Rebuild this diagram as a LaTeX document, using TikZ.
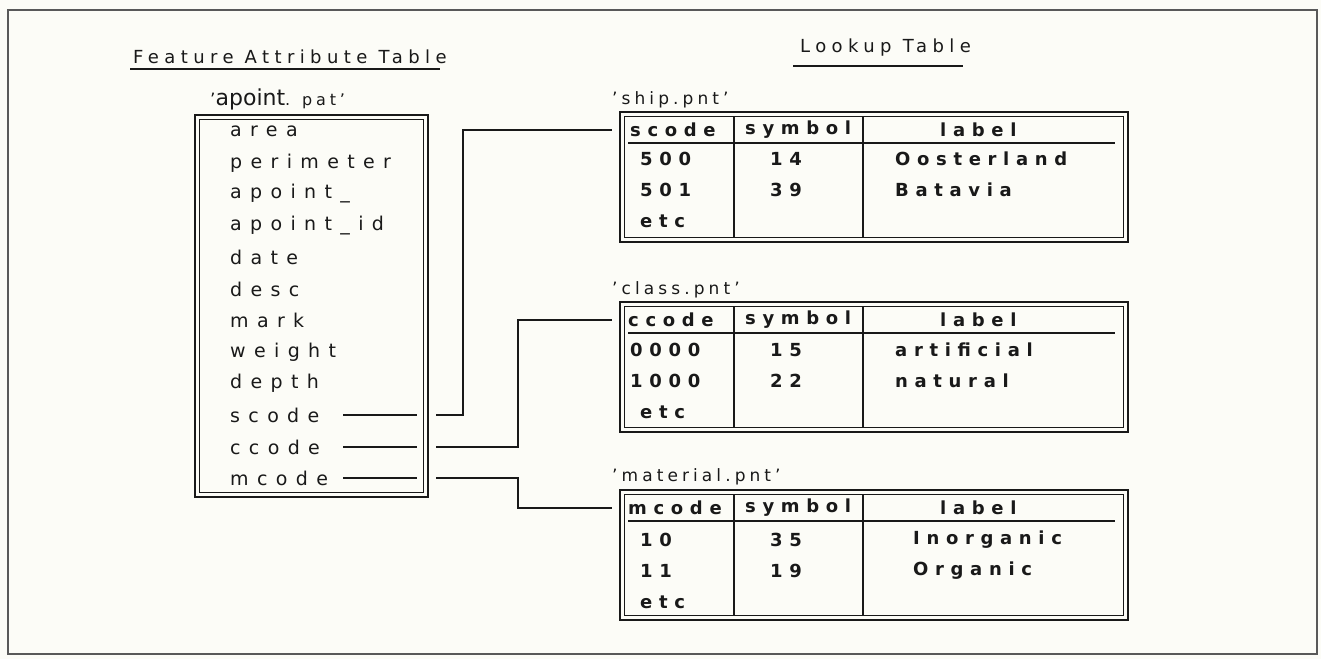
\documentclass[tikz,border=0pt]{standalone}
\usepackage{fontspec}
\setmainfont{DejaVu Sans}
\newfontfamily\plotfont[LetterSpace=44]{DejaVu Sans}
\newfontfamily\cellfont[LetterSpace=37]{DejaVu Sans}
\newfontfamily\titlefont[LetterSpace=30]{DejaVu Sans}
\newfontfamily\labfont[LetterSpace=24]{DejaVu Sans}
\newfontfamily\plainfont{DejaVu Sans}
\definecolor{paper}{RGB}{252,252,247}
\definecolor{ink}{RGB}{25,25,25}
\tikzset{
  row/.style={anchor=west,inner sep=0pt,font=\plotfont\fontsize{19}{19}\selectfont,text=ink},
  cell/.style={anchor=west,inner sep=0pt,font=\cellfont\bfseries\fontsize{18}{18}\selectfont,text=ink},
  tlabel/.style={anchor=west,inner sep=0pt,font=\labfont\fontsize{17}{17}\selectfont,text=ink},
  ttitle/.style={anchor=west,inner sep=0pt,font=\titlefont\fontsize{18}{18}\selectfont,text=ink},
  outerbox/.style={draw=ink,line width=2.4pt},
  innerbox/.style={draw=ink,line width=1.1pt},
  divider/.style={draw=ink,line width=1.4pt},
  conn/.style={draw=ink,line width=2pt},
  uline/.style={draw=ink,line width=2pt},
}
\newcommand{\luttable}[4]{% name, top, bottom, header y
  \node[outerbox,minimum width=508pt,minimum height={#3-#2},inner sep=0pt] (#1) at (874,{(#2+#3)/2}) {};
  \draw[innerbox] (624.5,#2+4.5) rectangle (1123.5,#3-4.5);
  \draw[divider] (734,#2+4.5) -- (734,#3-4.5);
  \draw[divider] (863,#2+4.5) -- (863,#3-4.5);
  \draw[uline] (628,#4+13) -- (1115,#4+13);
}
\begin{document}
\begin{tikzpicture}[x=1pt,y=-1pt]
\useasboundingbox (0,0) rectangle (1321,659);
\fill[paper] (0,0) rectangle (1321,659);
\draw[gray!70!black,line width=1.2pt] (8,10) rectangle (1317,654);

% titles
\node[ttitle] (fattitle) at (133,57) {Feature Attribute Table};
\draw[uline] (130,69) -- (440,69);
\node[ttitle] (luttitle) at (800,48) {Lookup Table};
\draw[uline] (793,66) -- (963,66);

% feature attribute table
\node[anchor=west,inner sep=0pt,text=ink] (fatname) at (210,99)
  {\labfont\fontsize{17}{17}\selectfont ’\plainfont\fontsize{22}{22}\selectfont apoint\labfont\fontsize{16}{16}\selectfont . pat’};
\node[outerbox,minimum width=233pt,minimum height=382pt,inner sep=0pt] (fat) at (311.5,306) {};
\draw[innerbox] (199.5,119.5) rectangle (423.5,492.5);

\foreach \t/\y [count=\i from 0] in {area/131,perimeter/163,apoint\_/194,apoint\_id/226,date/257,desc/289,mark/320,weight/352,depth/383,scode/415,ccode/447,mcode/478}{
  \node[row] (r\i) at (230,\y) {\t};
}
% stubs inside the box
\foreach \y in {415,447,478}{
  \draw[conn] (343,\y) -- (417,\y);
}
\coordinate (scA) at (436,415);
\coordinate (ccA) at (436,447);
\coordinate (mcA) at (436,478);

% lookup tables
\luttable{ship}{112}{242}{130}
\luttable{class}{302}{432}{320}
\luttable{material}{490}{620}{508}

\node[tlabel] (shipname) at (612,100) {’ship.pnt’};
\node[tlabel] (classname) at (612,290) {’class.pnt’};
\node[tlabel] (matname) at (612,477) {’material.pnt’};

% ship
\node[cell] (s11) at (630,130) {scode};
\node[cell] (s12) at (745,130) {symbol};
\node[cell] (s13) at (940,130) {label};
\node[cell] (s21) at (640,159) {500};
\node[cell] (s22) at (770,159) {14};
\node[cell] (s23) at (895,159) {Oosterland};
\node[cell] (s31) at (640,190) {501};
\node[cell] (s32) at (770,190) {39};
\node[cell] (s33) at (895,190) {Batavia};
\node[cell] (s41) at (640,221) {etc};
% class
\node[cell] (c11) at (628,320) {ccode};
\node[cell] (c12) at (745,320) {symbol};
\node[cell] (c13) at (940,320) {label};
\node[cell] (c21) at (630,350) {0000};
\node[cell] (c22) at (770,350) {15};
\node[cell] (c23) at (895,350) {artificial};
\node[cell] (c31) at (630,381) {1000};
\node[cell] (c32) at (770,381) {22};
\node[cell] (c33) at (895,381) {natural};
\node[cell] (c41) at (640,412) {etc};
% material
\node[cell] (m11) at (628,508) {mcode};
\node[cell] (m12) at (745,508) {symbol};
\node[cell] (m13) at (940,508) {label};
\node[cell] (m21) at (640,540) {10};
\node[cell] (m22) at (770,540) {35};
\node[cell] (m23) at (913,540) {Inorganic};
\node[cell] (m31) at (640,571) {11};
\node[cell] (m32) at (770,571) {19};
\node[cell] (m33) at (913,571) {Organic};
\node[cell] (m41) at (640,602) {etc};

% connector ends
\coordinate (scB) at ([xshift=-7pt]ship.west |- s11);
\coordinate (ccB) at ([xshift=-7pt]class.west |- c11);
\coordinate (mcB) at ([xshift=-7pt]material.west |- m11);

\draw[conn] (scA) -- (463,415) |- (scB);
\draw[conn] (ccA) -- (518,447) |- (ccB);
\draw[conn] (mcA) -- (518,478) |- (mcB);
\end{tikzpicture}
\end{document}
